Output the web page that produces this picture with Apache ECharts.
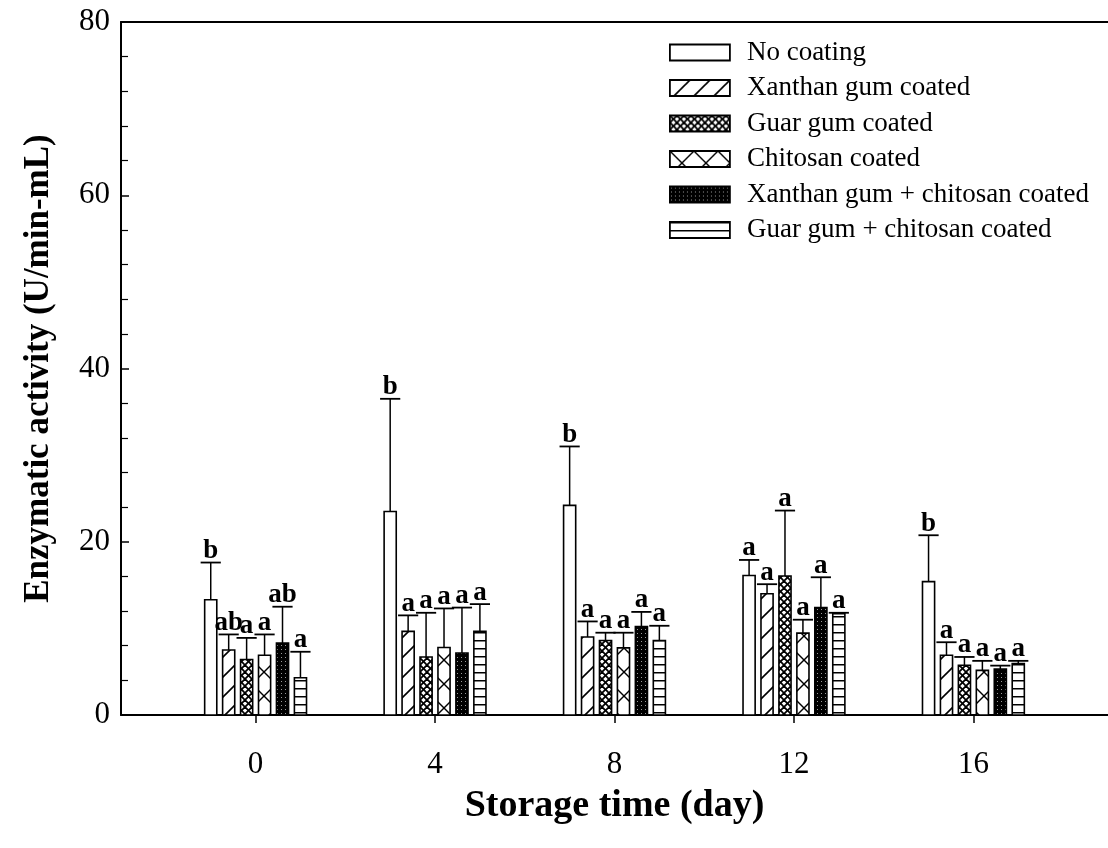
<!DOCTYPE html>
<html>
<head>
<meta charset="utf-8">
<title>Enzymatic activity during storage</title>
<script src="https://cdn.jsdelivr.net/npm/echarts@6/dist/echarts.min.js"></script>
<style>
  html, body { margin: 0; padding: 0; background: #fff; }
  #chart { width: 1108px; height: 848px; }
</style>
</head>
<body>
<div id="chart"></div>
<script>
// Storage days (x positions)
const days = [0, 4, 8, 12, 16];
const xTicks = [0, 4, 8, 12, 16];
const yTicks = [0, 20, 40, 60, 80];

// Treatments
const seriesNames = [
  'No coating',
  'Xanthan gum coated',
  'Guar gum coated',
  'Chitosan coated',
  'Xanthan gum + chitosan coated',
  'Guar gum + chitosan coated'
];

// Mean enzymatic activity (U/min-mL)
const noCoating      = [13.3, 23.5, 24.2, 16.1, 15.4];
const xanthan        = [7.5, 9.65, 9.0, 14.0, 6.9];
const guar           = [6.4, 6.7, 8.6, 16.05, 5.75];
const chitosan       = [6.9, 7.8, 7.75, 9.45, 5.15];
const xanthanChito   = [8.3, 7.15, 10.2, 12.4, 5.3];
const guarChito      = [4.3, 9.65, 8.6, 11.7, 5.95];

// Standard deviations (upper error bars)
const noCoatingSd    = [4.3, 13.0, 6.8, 1.8, 5.35];
const xanthanSd      = [1.8, 1.85, 1.8, 1.1, 1.5];
const guarSd         = [2.5, 5.1, 0.9, 7.55, 0.95];
const chitosanSd     = [2.4, 4.5, 1.75, 1.55, 1.1];
const xanthanChitoSd = [4.2, 5.25, 1.7, 3.5, 0.4];
const guarChitoSd    = [3.0, 3.15, 1.7, 0.1, 0.3];

// Significance letters
const noCoatingSig    = ['b', 'b', 'b', 'a', 'b'];
const xanthanSig      = ['ab', 'a', 'a', 'a', 'a'];
const guarSig         = ['a', 'a', 'a', 'a', 'a'];
const chitosanSig     = ['a', 'a', 'a', 'a', 'a'];
const xanthanChitoSig = ['ab', 'a', 'a', 'a', 'a'];
const guarChitoSig    = ['a', 'a', 'a', 'a', 'a'];

const means = [noCoating, xanthan, guar, chitosan, xanthanChito, guarChito];
const sds = [noCoatingSd, xanthanSd, guarSd, chitosanSd, xanthanChitoSd, guarChitoSd];
const sigs = [noCoatingSig, xanthanSig, guarSig, chitosanSig, xanthanChitoSig, guarChitoSig];

// --- fill patterns -------------------------------------------------------
function makeTile(w, h, bg, draw) {
  const c = document.createElement('canvas');
  c.width = w; c.height = h;
  const ctx = c.getContext('2d');
  ctx.fillStyle = bg;
  ctx.fillRect(0, 0, w, h);
  ctx.strokeStyle = '#000';
  ctx.fillStyle = '#000';
  draw(ctx, w, h);
  return { image: c, repeat: 'repeat' };
}

const patterns = [
  // plain white
  makeTile(4, 4, '#fff', () => {}),
  // forward diagonal hatching
  makeTile(20, 20, '#fff', (ctx, w, h) => {
    ctx.lineWidth = 1.6;
    for (let k = -w; k <= w; k += w) {
      ctx.beginPath(); ctx.moveTo(k, h); ctx.lineTo(k + w, 0); ctx.stroke();
    }
  }),
  // dense cross-hatching
  makeTile(7, 7, '#fff', (ctx, w, h) => {
    ctx.lineWidth = 1.8;
    for (let k = -w; k <= w; k += w) {
      ctx.beginPath(); ctx.moveTo(k, h); ctx.lineTo(k + w, 0); ctx.stroke();
      ctx.beginPath(); ctx.moveTo(k, 0); ctx.lineTo(k + w, h); ctx.stroke();
    }
  }),
  // large X lattice
  makeTile(24, 24, '#fff', (ctx, w, h) => {
    ctx.lineWidth = 1.4;
    for (let k = -w; k <= w; k += w) {
      ctx.beginPath(); ctx.moveTo(k, h); ctx.lineTo(k + w, 0); ctx.stroke();
      ctx.beginPath(); ctx.moveTo(k, 0); ctx.lineTo(k + w, h); ctx.stroke();
    }
  }),
  // black with fine light dots
  makeTile(4, 4, '#000', (ctx) => {
    ctx.fillStyle = '#9a9a9a';
    ctx.fillRect(1, 1, 1, 1);
  }),
  // horizontal lines
  makeTile(8, 8, '#fff', (ctx, w) => {
    ctx.lineWidth = 1.5;
    ctx.beginPath(); ctx.moveTo(0, 0.75); ctx.lineTo(w, 0.75); ctx.stroke();
  })
];

// --- layout constants (in x-axis data units) -------------------------------
const BAR_STEP = 0.4;
const BAR_W = 0.27;
const CAP_W = 0.45;
const FONT = '"Liberation Serif", "Times New Roman", serif';

function makeSeries(si) {
  const offset = (si - 2.5) * BAR_STEP;
  return {
    name: seriesNames[si],
    type: 'custom',
    xAxisIndex: 0,
    yAxisIndex: 0,
    itemStyle: { color: patterns[si], borderColor: '#000', borderWidth: 1.8 },
    data: days.map((d, i) => [d, means[si][i], sds[si][i]]),
    renderItem: function (params, api) {
      const x = api.value(0) + offset;
      const y = api.value(1);
      const sd = api.value(2);
      const base = api.coord([x, 0]);
      const top = api.coord([x, y]);
      const err = api.coord([x, y + sd]);
      const w = api.size([BAR_W, 0])[0];
      const cw = api.size([CAP_W, 0])[0];
      const letter = sigs[si][params.dataIndex];
      return {
        type: 'group',
        children: [
          {
            type: 'line',
            shape: { x1: top[0], y1: top[1], x2: err[0], y2: err[1] },
            style: { stroke: '#000', lineWidth: 1.5 }
          },
          {
            type: 'rect',
            shape: { x: base[0] - w / 2, y: top[1], width: w, height: base[1] - top[1] },
            style: { fill: patterns[si], stroke: '#000', lineWidth: 1.6 }
          },
          {
            type: 'line',
            shape: { x1: err[0] - cw / 2, y1: err[1], x2: err[0] + cw / 2, y2: err[1] },
            style: { stroke: '#000', lineWidth: 1.8 }
          },
          {
            type: 'text',
            style: {
              text: letter,
              x: err[0],
              y: err[1] + 2,
              align: 'center',
              verticalAlign: 'bottom',
              font: 'bold 27px ' + FONT,
              fill: '#000'
            }
          }
        ]
      };
    }
  };
}

const chart = echarts.init(document.getElementById('chart'), null, { renderer: 'canvas' });

chart.setOption({
  backgroundColor: '#fff',
  animation: false,
  grid: { left: 121, right: 0, top: 22, bottom: 133, containLabel: false },
  legend: {
    orient: 'vertical',
    left: 664,
    top: 34,
    icon: 'rect',
    itemWidth: 60,
    itemHeight: 16,
    itemGap: 8.5,
    selectedMode: false,
    itemStyle: { borderColor: '#000', borderWidth: 1.8 },
    textStyle: {
      fontFamily: FONT,
      fontSize: 27,
      color: '#000',
      lineHeight: 22,
      padding: [0, 0, 0, 12]
    },
    data: seriesNames
  },
  xAxis: [
    {
      type: 'value',
      min: -3,
      max: 19,
      position: 'bottom',
      name: 'Storage time (day)',
      nameLocation: 'middle',
      nameGap: 72,
      nameTextStyle: { fontFamily: FONT, fontSize: 38, fontWeight: 'bold', color: '#000' },
      axisLine: { onZero: false, lineStyle: { color: '#000', width: 2 } },
      axisTick: { show: true, inside: false, length: 8, customValues: xTicks, lineStyle: { color: '#000', width: 1.5 } },
      axisLabel: { customValues: xTicks, margin: 34, fontFamily: FONT, fontSize: 31, color: '#000' },
      splitLine: { show: false }
    },
    {
      type: 'value',
      min: -3,
      max: 19,
      position: 'top',
      axisLine: { onZero: false, lineStyle: { color: '#000', width: 2 } },
      axisTick: { show: false },
      axisLabel: { show: false },
      splitLine: { show: false }
    }
  ],
  yAxis: {
    type: 'value',
    min: 0,
    max: 80,
    interval: 20,
    position: 'left',
    name: 'Enzymatic activity (U/min-mL)',
    nameLocation: 'middle',
    nameRotate: 90,
    nameGap: 65,
    nameTextStyle: { fontFamily: FONT, fontSize: 35, fontWeight: 'bold', color: '#000' },
    axisLine: { show: true, onZero: false, lineStyle: { color: '#000', width: 2 } },
    axisTick: { show: true, inside: true, length: 8, customValues: yTicks, lineStyle: { color: '#000', width: 1.5 } },
    minorTick: { show: true, splitNumber: 5, length: 7, lineStyle: { color: '#000', width: 1.2 } },
    axisLabel: { margin: 11, fontFamily: FONT, fontSize: 31, color: '#000' },
    splitLine: { show: false },
    minorSplitLine: { show: false }
  },
  series: seriesNames.map((_, si) => makeSeries(si))
});
</script>
</body>
</html>
